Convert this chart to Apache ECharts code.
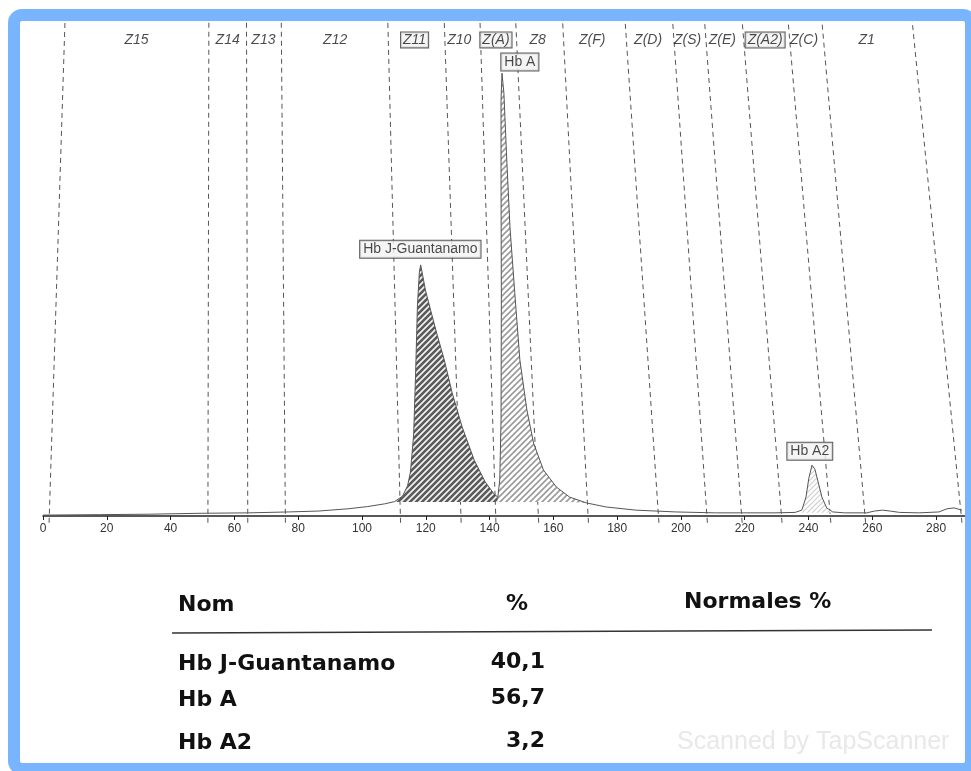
<!DOCTYPE html>
<html>
<head>
<meta charset="utf-8">
<script src="https://cdn.jsdelivr.net/npm/echarts@6/dist/echarts.min.js"></script>
<style>
html,body{margin:0;padding:0;background:#fff;}
#c{width:971px;height:771px;}
</style>
</head>
<body>
<div id="c"></div>
<script>
// ---- data ----
var xTicks = [0, 20, 40, 60, 80, 100, 120, 140, 160, 180, 200, 220, 240, 260, 280];
var traceX = [0.0,17.8,33.3,48.9,64.5,76.9,86.3,95.6,101.8,107.1,110.2,112.7,114.3,115.2,116.2,116.8,117.4,118.0,118.4,119.0,119.9,121.5,123.6,125.8,128.3,131.4,135.2,138.6,141.4,142.6,143.2,143.6,143.7,143.6,143.6,143.9,144.5,145.4,146.4,147.9,149.5,151.7,153.8,156.9,161.0,165.1,170.4,176.6,185.9,198.4,210.8,229.5,235.8,237.9,239.2,240.1,241.1,242.0,243.0,244.2,245.7,247.6,251.3,258.2,260.7,263.2,265.6,268.5,274.7,280.9,283.4,285.6,288.1];
var traceY = [0.2,0.3,0.4,0.6,0.7,0.9,1.1,1.6,2.1,2.7,3.2,4.4,6.7,9.8,18.0,31.3,46.9,54.2,55.8,53.6,50.2,45.8,40.2,34.7,27.3,19.8,12.4,7.6,4.9,4.2,8.0,21.3,48.0,74.7,92.4,98.4,94.0,79.1,64.2,49.6,34.7,23.6,16.2,10.2,6.4,4.2,2.9,2.0,1.3,0.9,0.7,0.7,0.8,1.3,4.2,8.4,11.3,10.4,7.6,4.2,1.8,0.9,0.7,0.7,1.1,1.3,1.1,0.8,0.7,0.9,1.6,1.8,1.3];
// zone boundaries (x value at baseline and at top of the scan)
var zoneBottom = [1.9, 51.7, 64.2, 76.0, 112.1, 131.1, 142.0, 155.4, 171.0, 193.1, 208.3, 219.2, 231.7, 247.0, 257.9, 288.1];
var zoneTop    = [6.9, 52.0, 63.8, 74.7, 108.1, 125.8, 137.0, 148.2, 162.9, 182.5, 197.4, 207.4, 219.2, 233.6, 244.2, 272.5];
var zoneNames  = ['Z15','Z14','Z13','Z12','Z11','Z10','Z(A)','Z8','Z(F)','Z(D)','Z(S)','Z(E)','Z(A2)','Z(C)','Z1'];
var zoneLabelX = [29.3, 57.9, 69.1, 91.6, 116.5, 130.5, 142.0, 155.1, 172.2, 189.7, 202.1, 213.0, 226.4, 238.6, 258.2];
var zoneBoxed  = ['Z11','Z(A)','Z(A2)'];
var peakNames  = ['Hb J-Guantanamo', 'Hb A', 'Hb A2'];
var peakLabelX = [118.3, 149.5, 240.4];
var peakLabelY = [59.3, 100.9, 14.4];
var fractionNames = ['Hb J-Guantanamo', 'Hb A', 'Hb A2'];
var fractionPct   = ['40,1', '56,7', '3,2'];
var fillRanges = [[110.2, 142.6], [142.6, 170.4], [237.9, 247.6]];

// ---- helpers ----
function hatch(bg, fg, size, lw) {
  var c = document.createElement('canvas');
  c.width = size; c.height = size;
  var ctx = c.getContext('2d');
  ctx.fillStyle = bg; ctx.fillRect(0, 0, size, size);
  ctx.strokeStyle = fg; ctx.lineWidth = lw;
  ctx.beginPath();
  ctx.moveTo(0, size); ctx.lineTo(size, 0);
  ctx.moveTo(-size / 2, size / 2); ctx.lineTo(size / 2, -size / 2);
  ctx.moveTo(size / 2, size * 1.5); ctx.lineTo(size * 1.5, size / 2);
  ctx.stroke();
  return c;
}
var patterns = [
  {image: hatch('#f2f2f2', '#5a5a5a', 6, 2.6), repeat: 'repeat'},
  {image: hatch('#ffffff', '#9a9a9a', 6, 1.6), repeat: 'repeat'},
  {image: hatch('#ffffff', '#cfcfcf', 5, 1.2), repeat: 'repeat'}
];
var trace = traceX.map(function (x, i) { return [x, traceY[i]]; });
function sub(r) { return trace.filter(function (p) { return p[0] >= r[0] && p[0] <= r[1]; }); }

var series = [];
fillRanges.forEach(function (r, i) {
  series.push({
    type: 'line', data: sub(r), showSymbol: false, symbol: 'none', silent: true,
    lineStyle: {width: 0},
    areaStyle: {color: patterns[i], opacity: 1, origin: i < 2 ? 3.1 : 0.7},
    z: 2
  });
});
series.push({
  type: 'line', data: trace, showSymbol: false, symbol: 'none', silent: true,
  lineStyle: {color: '#555', width: 1}, z: 3
});
series.push({
  type: 'lines', coordinateSystem: 'cartesian2d', silent: true, clip: false,
  lineStyle: {color: '#555', width: 1, type: [5, 4], opacity: 1},
  data: zoneBottom.map(function (b, i) { return {coords: [[b, -1.5], [zoneTop[i], 110]]}; }),
  z: 1
});
series.push({
  type: 'scatter', symbolSize: 0, silent: true, clip: false,
  data: zoneNames.map(function (n, i) {
    var boxed = zoneBoxed.indexOf(n) >= 0;
    return {
      name: n, value: [zoneLabelX[i], 105.8],
      label: boxed ? {borderColor: '#333', borderWidth: 1, backgroundColor: '#f3f3f3', padding: [1, 2, 0, 2]} : {}
    };
  }),
  label: {show: true, position: 'inside', formatter: '{b}', color: '#1c1c1c',
    fontFamily: 'Liberation Sans, Arial', fontStyle: 'italic', fontSize: 14},
  z: 5
});
series.push({
  type: 'scatter', symbolSize: 0, silent: true, clip: false,
  data: peakNames.map(function (n, i) { return {name: n, value: [peakLabelX[i], peakLabelY[i]]}; }),
  label: {show: true, position: 'inside', formatter: '{b}', color: '#1c1c1c',
    fontFamily: 'Liberation Sans, Arial', fontSize: 14,
    borderColor: '#333', borderWidth: 1, backgroundColor: '#f2f2f2', padding: [2, 3, 1, 3]},
  z: 6
});

var tableFont = 'bold 22px "DejaVu Sans"';
var graphics = [];
function txt(t, x, y, align, extra) {
  graphics.push({type: 'text', x: x, y: y, z: 20,
    style: Object.assign({text: t, font: tableFont, fill: '#111', textAlign: align || 'left', textVerticalAlign: 'middle'}, extra || {})});
}
txt('Nom', 178, 605);
txt('%', 517, 604, 'center');
txt('Normales %', 684, 602);
graphics.push({type: 'line', z: 20, shape: {x1: 172, y1: 633, x2: 932, y2: 630}, style: {stroke: '#333', lineWidth: 1.5}});
var rowY = [664, 700, 743];
fractionNames.forEach(function (n, i) {
  txt(n, 178, rowY[i]);
  txt(fractionPct[i], 545, rowY[i] - 2, 'right');
});
graphics.push({type: 'text', x: 677, y: 742, z: 19,
  style: {text: 'Scanned by TapScanner', font: '25px "Liberation Sans"', fill: '#e8e8e8', textVerticalAlign: 'middle'}});
graphics.push({type: 'rect', z: 50, silent: true,
  shape: {x: 14, y: 15, width: 957, height: 754, r: 8},
  style: {fill: 'none', stroke: '#79b4fe', lineWidth: 12}});

var chart = echarts.init(document.getElementById('c'), null, {renderer: 'canvas'});
chart.setOption({
  animation: false,
  backgroundColor: '#ffffff',
  grid: {left: 43, width: 931, top: 21, height: 495},
  xAxis: {
    type: 'value', min: 0, max: 290, interval: 20,
    axisLine: {show: true, lineStyle: {color: '#222', width: 1.5}},
    axisTick: {show: true, length: 4, lineStyle: {color: '#222'}},
    axisLabel: {color: '#333', fontSize: 12, fontFamily: 'Liberation Sans, Arial', margin: 7,
      formatter: function (v) { return xTicks.indexOf(v) >= 0 ? String(v) : ''; }},
    splitLine: {show: false}
  },
  yAxis: {type: 'value', min: 0, max: 110, show: false},
  series: series,
  graphic: graphics
});
</script>
</body>
</html>
